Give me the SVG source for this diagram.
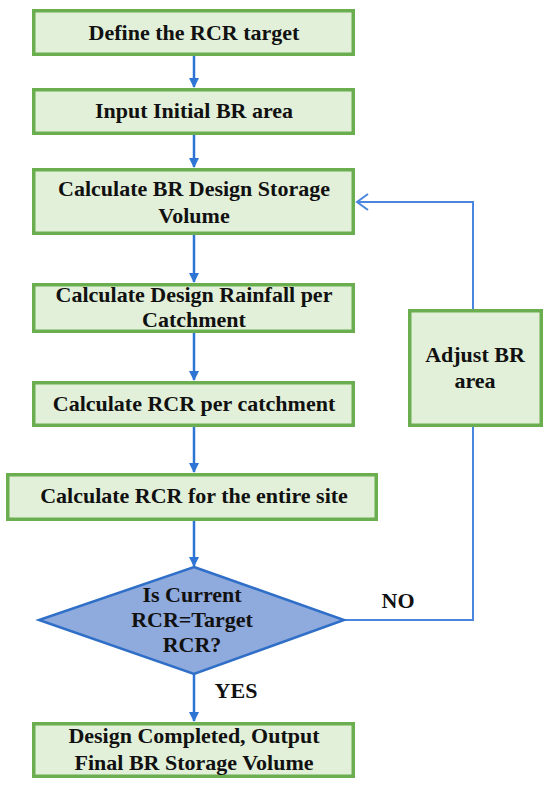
<svg xmlns="http://www.w3.org/2000/svg" width="550" height="788" viewBox="0 0 550 788">
<defs>
<style>
.box{fill:#E2F0D9;stroke:#6AAE50;stroke-width:3.5}
.dia{fill:#8FAADC;stroke:#2F6FC8;stroke-width:2.5}
.t{font-family:"Liberation Serif","Times New Roman",serif;font-weight:bold;font-size:22px;fill:#111;text-anchor:middle}
.c{fill:none;stroke:#2E74D4;stroke-width:2.5}
.l{fill:none;stroke:#4A86E0;stroke-width:2}
</style>
<marker id="ah" markerWidth="10" markerHeight="10" refX="9" refY="5" orient="auto" markerUnits="userSpaceOnUse">
<path d="M0,0 L10,5 L0,10 Z" fill="#2E74D4"/>
</marker>
<marker id="oh" markerWidth="14" markerHeight="18" refX="12" refY="9" orient="auto" markerUnits="userSpaceOnUse">
<path d="M1,1 L12,9 L1,17" fill="none" stroke="#4A86E0" stroke-width="2"/>
</marker>
</defs>
<rect width="550" height="788" fill="#fff"/>
<g id="connectors">
<line class="c" x1="194" y1="56" x2="194" y2="87" marker-end="url(#ah)"/>
<line class="c" x1="194" y1="135" x2="194" y2="167" marker-end="url(#ah)"/>
<line class="c" x1="194" y1="235" x2="194" y2="282" marker-end="url(#ah)"/>
<line class="c" x1="194" y1="333" x2="194" y2="380" marker-end="url(#ah)"/>
<line class="c" x1="194" y1="427" x2="194" y2="472" marker-end="url(#ah)"/>
<line class="c" x1="194" y1="521" x2="194" y2="566" marker-end="url(#ah)"/>
<line class="c" x1="194" y1="674" x2="194" y2="721" marker-end="url(#ah)"/>
<polyline class="l" points="344,620 473,620 473,427"/>
<polyline class="l" points="473,309 473,202 357,202" marker-end="url(#oh)"/>
<text class="t" x="398" y="608">NO</text>
<text class="t" x="236" y="698">YES</text>
</g>
<g id="n1"><rect class="box" x="33.75" y="10.75" width="319.5" height="43.5"/><text class="t" x="194" y="40">Define the RCR target</text></g>
<g id="n2"><rect class="box" x="33.75" y="89.75" width="319.5" height="43.5"/><text class="t" x="194" y="118">Input Initial BR area</text></g>
<g id="n3"><rect class="box" x="33.75" y="169.75" width="319.5" height="63.5"/><text class="t" x="194" y="196">Calculate BR Design Storage</text><text class="t" x="194" y="223">Volume</text></g>
<g id="n4"><rect class="box" x="33.75" y="284.75" width="319.5" height="46.5"/><text class="t" x="194" y="302">Calculate Design Rainfall per</text><text class="t" x="194" y="327">Catchment</text></g>
<g id="n5"><rect class="box" x="33.75" y="382.75" width="319.5" height="42.5"/><text class="t" x="194" y="411">Calculate RCR per catchment</text></g>
<g id="n6"><rect class="box" x="7.75" y="474.75" width="368.5" height="44.5"/><text class="t" x="194" y="503">Calculate RCR for the entire site</text></g>
<g id="n7"><polygon class="dia" points="194,567 344,620 194,674 39,620"/><text class="t" x="192" y="602">Is Current</text><text class="t" x="192" y="627">RCR=Target</text><text class="t" x="192" y="652">RCR?</text></g>
<g id="n8"><rect class="box" x="33.75" y="723.75" width="319.5" height="52.5"/><text class="t" x="194" y="743">Design Completed, Output</text><text class="t" x="194" y="770">Final BR Storage Volume</text></g>
<g id="n9"><rect class="box" x="409.75" y="310.75" width="131.5" height="114.5"/><text class="t" x="475" y="362">Adjust BR</text><text class="t" x="475" y="388">area</text></g>
</svg>
